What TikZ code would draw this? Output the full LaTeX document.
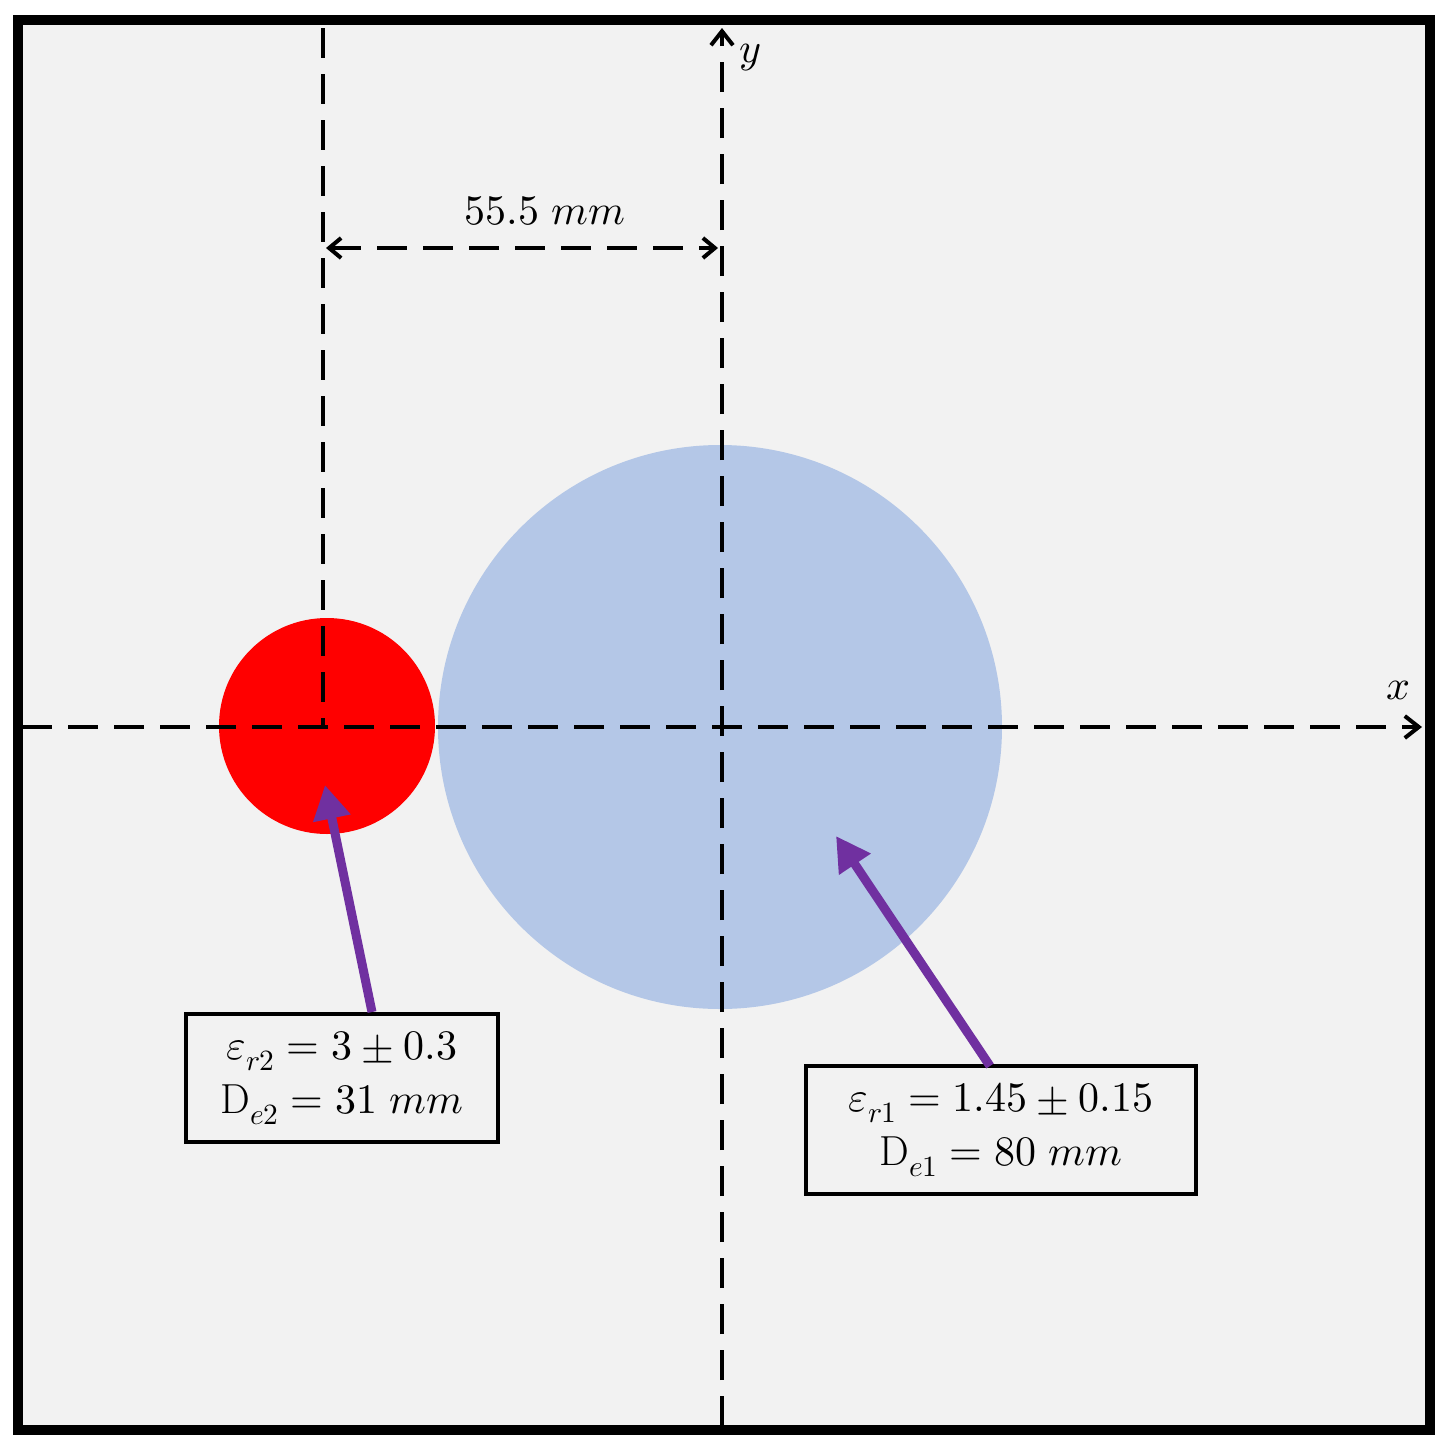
\documentclass[tikz,border=0pt]{standalone}
\usepackage{unicode-math}
\setmathfont{Latin Modern Math}
\usetikzlibrary{arrows.meta}
\begin{document}
\begin{tikzpicture}[x=1pt,y=-1pt,
  dsh/.style={line width=4pt,dash pattern=on 30pt off 16pt},
  ax/.style={dsh,-{Straight Barb[length=14pt,width=22pt,line width=4pt]}},
  parrow/.style={line width=9pt,color=arrowpurple,-{Triangle[length=34pt,width=36pt]}},
  lbox/.style={draw,line width=4pt,fill=bgg,align=center,inner sep=0pt,font=\fontsize{42}{54}\selectfont},
  lbl/.style={font=\fontsize{42}{46}\selectfont}]
\definecolor{bgg}{HTML}{F2F2F2}
\definecolor{blueC}{HTML}{B4C7E7}
\definecolor{arrowpurple}{HTML}{7030A0}
\useasboundingbox (0,0) rectangle (1446,1451);
\fill[white] (0,0) rectangle (1446,1451);
\draw[line width=10pt,fill=bgg] (18,20) rectangle (1430,1430);
\fill[blueC] (720,727) circle (282);
\fill[red] (327,726) circle (108);
\coordinate (hL) at (22,727); \coordinate (hR) at (1422,727);
\coordinate (vB) at (722,1426); \coordinate (vT) at (722,28);
\coordinate (lT) at (323,28); \coordinate (lB) at (323,727);
\draw[ax] (hL) -- (hR);
\draw[ax] (vB) -- (vT);
\draw[dsh] (lT) -- (lB);
\coordinate (dA) at (326,248); \coordinate (dB) at (718,248);
\draw[dsh,{Straight Barb[length=12pt,width=20pt,line width=4pt]}-{Straight Barb[length=12pt,width=20pt,line width=4pt]}] (dA) -- (dB);
\node[lbl] (dim) at (545,211) {$55.5\ mm$};
\node[lbl] (ylab) at (750,58) {$y$};
\node[lbl] (xlab) at (1398,690) {$x$};
\node[lbox,minimum width=312pt,minimum height=128pt] (b2) at (342,1078) {$\varepsilon_{r2}=3\pm0.3$\\$\mathrm{D}_{e2}=31\ mm$};
\node[lbox,minimum width=390pt,minimum height=128pt] (b1) at (1001,1130) {$\varepsilon_{r1}=1.45\pm0.15$\\$\mathrm{D}_{e1}=80\ mm$};
\coordinate (t2) at (325,785); \coordinate (t1) at (836,836);
\draw[parrow] (372,1012) -- (t2);
\draw[parrow] (990,1066) -- (t1);
\end{tikzpicture}
\end{document}
